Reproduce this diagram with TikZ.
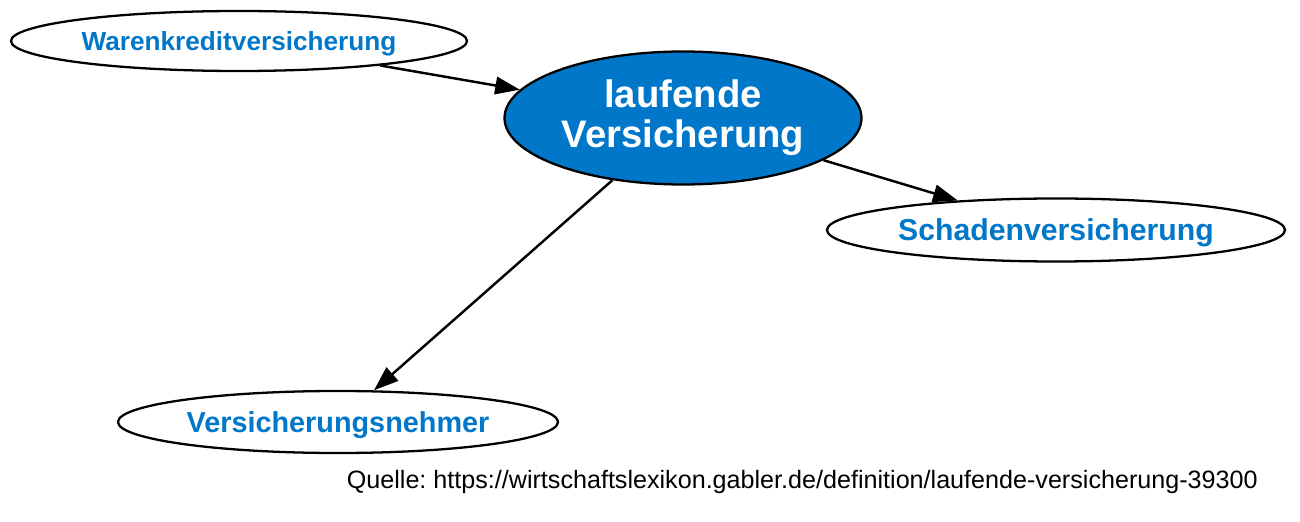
\documentclass[tikz,border=0pt]{standalone}
\usepackage{fontspec}
\setmainfont{Liberation Sans}
\usepackage{tikz}
\usetikzlibrary{shapes.geometric,arrows.meta}
\definecolor{gablerblue}{HTML}{0077C8}
\frenchspacing

\begin{document}
\begin{tikzpicture}[x=0.2mm, y=-0.2mm,
    term/.style={ellipse, draw=black, line width=1.3pt, fill=white, inner sep=0pt,
        text=gablerblue, font=\fontsize{#1}{19}\selectfont\bfseries, text depth=0pt},
    mainterm/.style={term=22, fill=gablerblue, text=white, align=center, text depth=,
        font=\fontsize{21.8}{22.7}\selectfont\bfseries},
    link/.style={line width=1.4pt, -{Triangle[length=14pt, width=10pt]}}]
    \useasboundingbox (0,0) rectangle (1300,522);
    \node[mainterm, minimum width=71.4mm, minimum height=26.6mm] (lv) at (683,118) {laufende\\Versicherung};
    \node[term=14.9, minimum width=91.2mm, minimum height=12mm] (wkv) at (239,41) {Warenkreditversicherung};
    \node[term=17.2, minimum width=91.6mm, minimum height=12.6mm] (sv) at (1056,230) {Schadenversicherung};
    \node[term=16.4, minimum width=88mm, minimum height=12.4mm] (vn) at (338,422) {Versicherungsnehmer};
    \draw[link] (wkv) -- (lv);
    \draw[link] (lv) -- (sv);
    \draw[link] (lv) -- (vn);
    \node[anchor=base east, inner sep=0pt, font=\fontsize{14.3}{16}\selectfont] (src) at (1258,489)
        {Quelle: https://wirtschaftslexikon.gabler.de/definition/laufende-versicherung-39300};
\end{tikzpicture}
\end{document}
